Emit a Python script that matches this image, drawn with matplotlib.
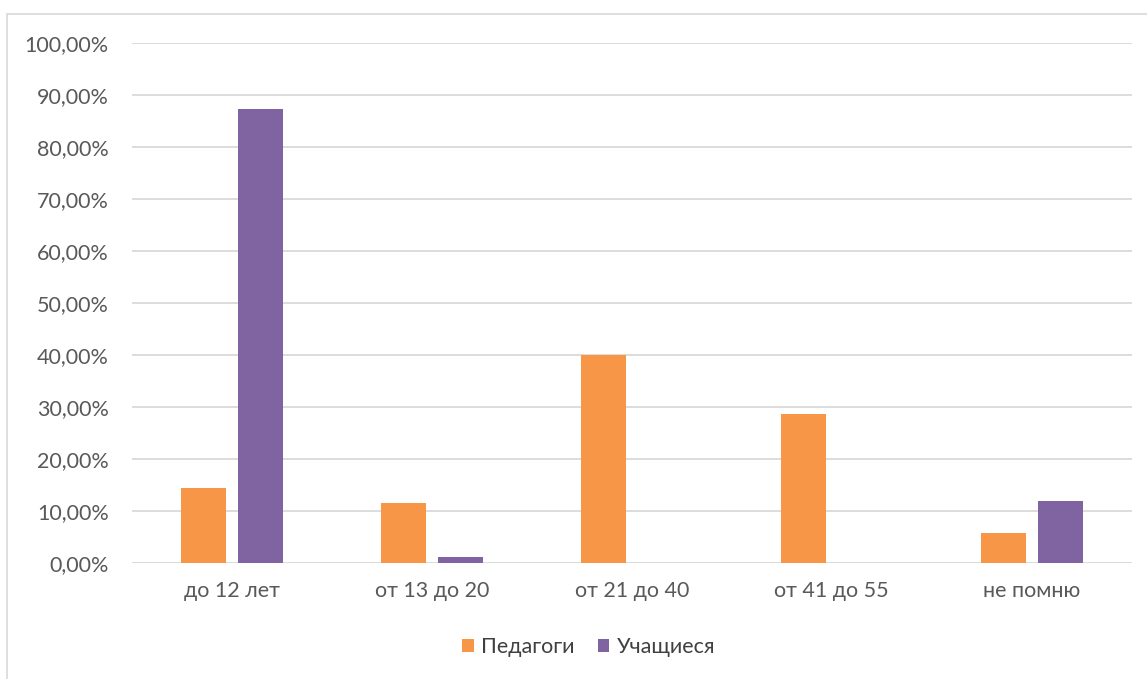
import numpy as np
import matplotlib.pyplot as plt
from matplotlib.ticker import FuncFormatter

categories = ['до 12 лет', 'от 13 до 20', 'от 21 до 40', 'от 41 до 55', 'не помню']
teachers = [14.3, 11.4, 40.0, 28.6, 5.7]
students = [87.2, 1.1, 0.0, 0.0, 11.8]
series_names = ['Педагоги', 'Учащиеся']

plt.rcParams['font.family'] = ['Lato', 'DejaVu Sans']

fig = plt.figure(figsize=(11.47, 6.79), dpi=100)
# outer chart border
fig.patches.append(plt.Rectangle((7 / 1147, -0.01), 1.02, 1 - 13.5 / 679 + 0.01,
                                 transform=fig.transFigure, fill=False,
                                 edgecolor='#D9D9D9', linewidth=1.2))

ax = fig.add_axes([131.7 / 1147, 1 - 562.7 / 679, 1000 / 1147, 520 / 679])

x = np.arange(len(categories))
w = 0.225
off = w / 2 + 0.03
ax.bar(x - off, teachers, w, color='#F79646', label=series_names[0], zorder=3)
ax.bar(x + off, students, w, color='#8064A2', label=series_names[1], zorder=3)

ax.set_xlim(-0.5, len(categories) - 0.5)
ax.set_ylim(0, 100)
ax.set_yticks(np.arange(0, 101, 10))
ax.yaxis.set_major_formatter(FuncFormatter(lambda v, p: f'{v:.2f}%'.replace('.', ',')))
ax.set_xticks(x)
ax.set_xticklabels(categories)

ax.grid(axis='y', color='#D9D9D9', linewidth=1.3, zorder=0)
for s in ax.spines.values():
    s.set_visible(False)
ax.tick_params(axis='both', length=0, labelsize=15.5, colors='#595959')
ax.tick_params(axis='y', pad=16.5)
ax.tick_params(axis='x', pad=13)

ax.legend(loc='center', bbox_to_anchor=(0.457, -0.163), ncol=2, frameon=False,
          fontsize=15.5, handlelength=0.55, handleheight=0.55, handletextpad=0.36,
          columnspacing=1.05, labelcolor='#404040')

plt.savefig('out.png', dpi=100)
